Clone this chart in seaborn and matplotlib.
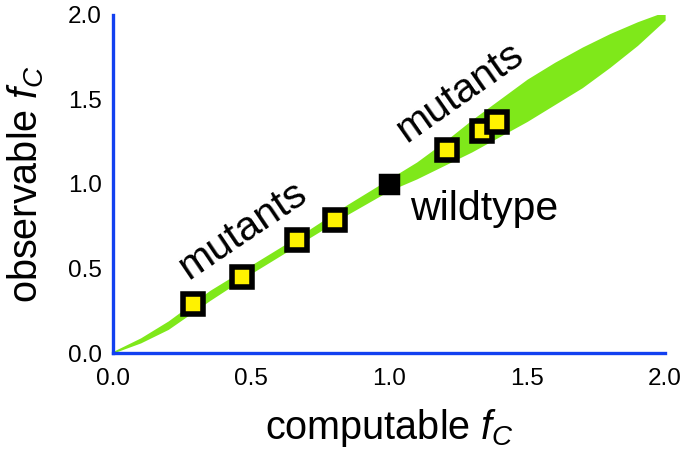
import numpy as np
import pandas as pd
import seaborn as sns
import matplotlib.pyplot as plt

# mutants and wildtype (computable vs observable f_C)
mut_x = [0.29, 0.467, 0.667, 0.804, 1.21, 1.337, 1.391]
mut_y = [0.29, 0.45, 0.669, 0.787, 1.20, 1.314, 1.367]
wt_x = [1.0]
wt_y = [1.0]

# green cloud, edges
band_x = [0.0, 0.1, 0.2, 0.35, 0.5, 0.7, 0.85, 1.0, 1.1, 1.2, 1.3, 1.4, 1.5, 1.6, 1.7, 1.8, 1.9, 2.0]
band_lo = [0.0, 0.06, 0.14, 0.31, 0.47, 0.67, 0.82, 0.96, 1.03, 1.11, 1.19, 1.28, 1.37, 1.47, 1.57, 1.69, 1.82, 1.97]
band_hi = [0.01, 0.09, 0.19, 0.37, 0.52, 0.72, 0.88, 1.03, 1.13, 1.25, 1.38, 1.50, 1.62, 1.72, 1.81, 1.89, 1.96, 2.02]

ticks = [0.0, 0.5, 1.0, 1.5, 2.0]
tick_labels = ["0.0", "0.5", "1.0", "1.5", "2.0"]

sns.set_style("white")
plt.rcParams['font.family'] = ['Liberation Sans', 'DejaVu Sans']
plt.rcParams['mathtext.fontset'] = 'custom'
plt.rcParams['mathtext.it'] = 'Liberation Sans:italic'
plt.rcParams['mathtext.rm'] = 'Liberation Sans'
plt.rcParams['text.color'] = 'black'
plt.rcParams['axes.labelcolor'] = 'black'

blue = '#1240f0'
green = '#7fe81a'

fig = plt.figure(figsize=(6.85, 4.67), dpi=100)
ax = fig.add_axes([0.165, 0.244, 0.806, 0.724])

ax.fill_between(band_x, band_lo, band_hi, color=green, linewidth=0, zorder=1)

sns.scatterplot(x=mut_x, y=mut_y, marker='s', s=14**2, color='#fff200',
                edgecolor='black', linewidth=4, ax=ax, zorder=3)
sns.scatterplot(x=wt_x, y=wt_y, marker='s', s=12.5**2, color='black',
                edgecolor='black', linewidth=2.5, ax=ax, zorder=3)
for coll in ax.collections[1:]:
    coll.set_joinstyle('miter')

ax.text(0.47, 0.73, "mutants", rotation=34, rotation_mode='anchor',
        ha='center', va='center', fontsize=29.5)
ax.text(1.257, 1.545, "mutants", rotation=35, rotation_mode='anchor',
        ha='center', va='center', fontsize=29.5)
ax.text(1.076, 0.787, "wildtype", ha='left', va='baseline', fontsize=29.5)

ax.set_xlim(0, 2)
ax.set_ylim(0, 2)
ax.set_xticks(ticks)
ax.set_xticklabels(tick_labels)
ax.set_yticks(ticks)
ax.set_yticklabels(tick_labels)
ax.tick_params(direction='in', length=8, width=2, color=blue, labelsize=17.5,
               labelcolor='black')
ax.tick_params(axis='x', pad=11)
ax.tick_params(axis='y', pad=8)

for side in ['top', 'right']:
    ax.spines[side].set_visible(False)
for side in ['left', 'bottom']:
    ax.spines[side].set_color(blue)
    ax.spines[side].set_linewidth(2.4)

ax.set_xlabel(r"computable $\mathit{f}_\mathit{C}$", fontsize=28.5, labelpad=12)
ax.set_ylabel(r"observable $\mathit{f}_\mathit{C}$", fontsize=28.5, labelpad=16)

plt.savefig("out.png", dpi=100)
